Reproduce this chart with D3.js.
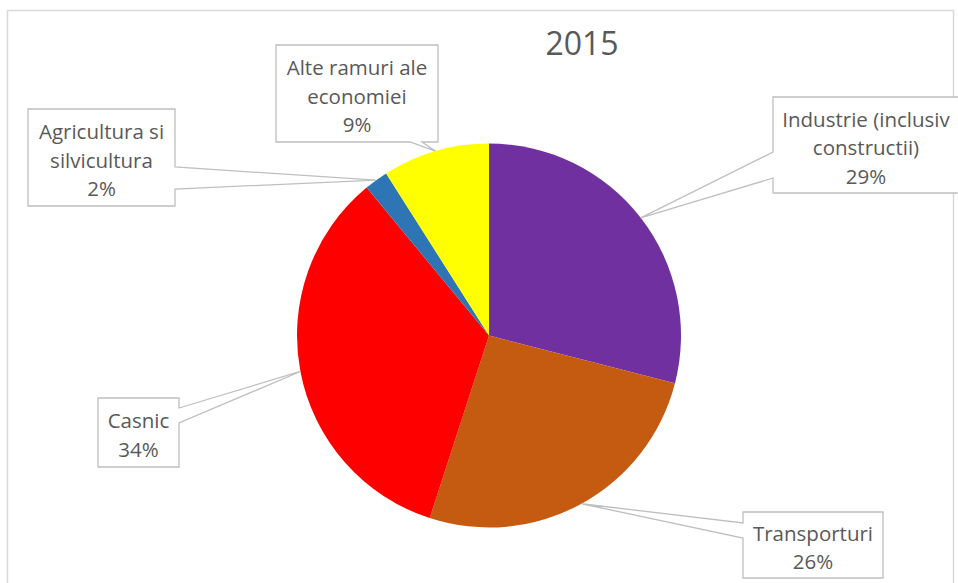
<!DOCTYPE html>
<html>
<head>
<meta charset="utf-8">
<script src="https://cdn.jsdelivr.net/npm/d3@7"></script>
<style>
  html, body { margin: 0; padding: 0; background: #fff; }
  svg { display: block; }
  text { font-family: "Open Sans", "Liberation Sans", sans-serif; fill: #595959; }
</style>
</head>
<body>
<svg id="chart" width="958" height="583"></svg>
<script>
// Energy consumption by sector, 2015 (share of total, %)
const title = "2015";
const categories = [
  "Industrie (inclusiv constructii)",
  "Transporturi",
  "Casnic",
  "Agricultura si silvicultura",
  "Alte ramuri ale economiei"
];
const values = [29, 26, 34, 2, 9];
const colors = ["#7030A0", "#C55A11", "#FF0000", "#2E75B6", "#FFFF00"];
// Wrapped label lines (category text as it is broken in the callouts)
const labelLines = [
  ["Industrie (inclusiv", "constructii)"],
  ["Transporturi"],
  ["Casnic"],
  ["Agricultura si", "silvicultura"],
  ["Alte ramuri ale", "economiei"]
];

// Callout box layout: box rect + side of the pointer wedge and its base offsets
const callouts = [
  { x: 773, y: 97,  w: 186, h: 96, side: "left",   b0: 55,  b1: 81 },
  { x: 743, y: 512, w: 140, h: 66, side: "left",   b0: 11,  b1: 26 },
  { x: 98,  y: 398, w: 81,  h: 69, side: "right",  b0: 10,  b1: 25 },
  { x: 28,  y: 109, w: 147, h: 97, side: "right",  b0: 58,  b1: 80 },
  { x: 276, y: 45,  w: 162, h: 97, side: "bottom", b0: 134, b1: 146 }
];

const svg = d3.select("#chart");

// Chart area frame
svg.append("rect")
  .attr("x", 7.5).attr("y", 10.5)
  .attr("width", 946).attr("height", 580)
  .attr("fill", "#fff")
  .attr("stroke", "#d9d9d9")
  .attr("stroke-width", 1.5);

// Title
svg.append("text")
  .attr("x", 582).attr("y", 42)
  .attr("text-anchor", "middle")
  .attr("dominant-baseline", "central")
  .style("font-size", "32px")
  .text(title);

const cx = 489, cy = 335.5, r = 192;

const data = categories.map((c, i) => ({ name: c, value: values[i], color: colors[i], lines: labelLines[i], box: callouts[i] }));

const pie = d3.pie().sort(null).value(d => d.value);
const arcs = pie(data);
const arc = d3.arc().innerRadius(0).outerRadius(r);

const g = svg.append("g").attr("transform", `translate(${cx},${cy})`);
g.selectAll("path.slice")
  .data(arcs)
  .join("path")
  .attr("class", "slice")
  .attr("d", arc)
  .attr("fill", d => d.data.color);

// Callouts with pointer wedges to each slice's outer edge
const fmt = d => Math.round(d) + "%";
arcs.forEach(a => {
  const mid = (a.startAngle + a.endAngle) / 2;
  const px = cx + r * Math.sin(mid);
  const py = cy - r * Math.cos(mid);
  const b = a.data.box;
  const x0 = b.x, y0 = b.y, x1 = b.x + b.w, y1 = b.y + b.h;
  let pts;
  if (b.side === "left") {
    pts = [[x0, y0], [x1, y0], [x1, y1], [x0, y1], [x0, y0 + b.b1], [px, py], [x0, y0 + b.b0]];
  } else if (b.side === "right") {
    pts = [[x0, y0], [x1, y0], [x1, y0 + b.b0], [px, py], [x1, y0 + b.b1], [x1, y1], [x0, y1]];
  } else {
    pts = [[x0, y0], [x1, y0], [x1, y1], [x0 + b.b1, y1], [px, py], [x0 + b.b0, y1], [x0, y1]];
  }
  svg.append("path")
    .attr("d", d3.line()(pts) + "Z")
    .attr("fill", "#fff")
    .attr("stroke", "#bfbfbf")
    .attr("stroke-width", 1.3)
    .attr("stroke-linejoin", "miter");

  const lines = a.data.lines.concat([fmt(a.data.value)]);
  const lh = 28.5;
  const tcx = (x0 + x1) / 2, tcy = (y0 + y1) / 2 + 2;
  lines.forEach((t, i) => {
    svg.append("text")
      .attr("x", tcx)
      .attr("y", tcy + (i - (lines.length - 1) / 2) * lh)
      .attr("text-anchor", "middle")
      .attr("dominant-baseline", "central")
      .style("font-size", "20.5px")
      .text(t);
  });
});
</script>
</body>
</html>
